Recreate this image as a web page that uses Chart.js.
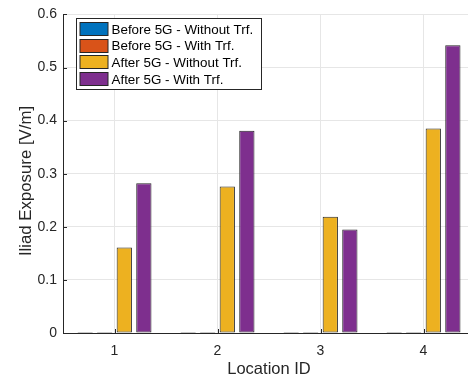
<!DOCTYPE html>
<html>
<head>
<meta charset="utf-8">
<script src="https://cdn.jsdelivr.net/npm/chart.js@4"></script>
<style>
  html, body { margin: 0; padding: 0; background: #fff; overflow: hidden; }
  #wrap { position: relative; width: 476px; height: 384px; }
</style>
</head>
<body>
<div id="wrap">
  <canvas id="myBarChart" width="476" height="384"></canvas>
</div>
<script>
const locations = ['1', '2', '3', '4'];
const seriesNames = ['Before 5G - Without Trf.', 'Before 5G - With Trf.', 'After 5G - Without Trf.', 'After 5G - With Trf.'];
const colors = ['#0072BD', '#D95319', '#EDB120', '#7E2F8E'];
const beforeWithout = [0, 0, 0, 0];
const beforeWith = [0, 0, 0, 0];
const afterWithout = [0.161, 0.276, 0.219, 0.385];
const afterWith = [0.282, 0.381, 0.195, 0.542];
const yTicks = [0, 0.1, 0.2, 0.3, 0.4, 0.5, 0.6];
const yTitle = 'Iliad Exposure [V/m]';

const values = [beforeWithout, beforeWith, afterWithout, afterWith];
const font = "'Liberation Sans', Arial, sans-serif";

// 안쪽 눈금 + y축 제목 + 범례
const extras = {
  id: 'extras',
  afterDraw(chart) {
    const ctx = chart.ctx;
    const a = chart.chartArea;
    ctx.save();
    ctx.strokeStyle = '#262626';
    ctx.lineWidth = 1;
    ctx.beginPath();
    chart.scales.y.ticks.forEach((t, i) => {
      const y = Math.round(chart.scales.y.getPixelForTick(i)) + 0.5;
      ctx.moveTo(a.left, y);
      ctx.lineTo(a.left + 4, y);
    });
    chart.scales.x.ticks.forEach((t, i) => {
      const x = Math.round(chart.scales.x.getPixelForTick(i)) + 0.5;
      ctx.moveTo(x, a.bottom);
      ctx.lineTo(x, a.bottom - 4);
    });
    ctx.stroke();

    // 범례
    const lx = 76.5, ly = 18.5, lw = 185, lh = 71;
    ctx.fillStyle = '#fff';
    ctx.fillRect(lx, ly, lw, lh);
    ctx.strokeRect(lx, ly, lw, lh);
    ctx.font = '13.4px ' + font;
    ctx.textBaseline = 'middle';
    ctx.textAlign = 'left';
    seriesNames.forEach((name, i) => {
      const cy = ly + 10.5 + i * 16.7;
      ctx.fillStyle = colors[i];
      ctx.fillRect(lx + 3.5, Math.round(cy - 7) + 0.5, 28, 13);
      ctx.strokeRect(lx + 3.5, Math.round(cy - 7) + 0.5, 28, 13);
      ctx.fillStyle = '#000';
      ctx.fillText(name, lx + 35, cy + 1);
    });

    // y축 제목
    ctx.translate(26, 181);
    ctx.rotate(-Math.PI / 2);
    ctx.fillStyle = '#262626';
    ctx.font = '16.8px ' + font;
    ctx.textAlign = 'center';
    ctx.textBaseline = 'middle';
    ctx.fillText(yTitle, 0, 0);
    ctx.restore();
  }
};

const data = {
  labels: locations,
  datasets: values.map((v, i) => ({
    label: seriesNames[i],
    data: v,
    backgroundColor: colors[i],
    borderColor: '#262626',
    borderWidth: 1,
    borderSkipped: false,
    minBarLength: 1,
    categoryPercentage: 0.76,
    barPercentage: 0.78
  }))
};

const options = {
  responsive: false,
  animation: false,
  layout: { padding: { top: 10, right: 1, left: 0, bottom: 0 } },
  plugins: { legend: { display: false }, tooltip: { enabled: false } },
  scales: {
    x: {
      grid: { offset: false, color: '#e6e6e6', tickLength: 0, drawTicks: false },
      border: { color: '#262626', width: 1 },
      ticks: { color: '#262626', font: { family: font, size: 14 }, padding: 10 },
      title: { display: true, text: 'Location ID', color: '#262626', font: { family: font, size: 16.5 }, padding: { top: 2, bottom: 5 } },
      afterFit(scale) { scale.height = 51; }
    },
    y: {
      min: 0,
      max: 0.6,
      afterBuildTicks(scale) { scale.ticks = yTicks.map(v => ({ value: v })); },
      grid: { color: '#e6e6e6', tickLength: 0, drawTicks: false },
      border: { color: '#262626', width: 1 },
      ticks: { color: '#262626', font: { family: font, size: 14 }, padding: 6, callback: v => String(v) },
      afterFit(scale) { scale.width = 63; }
    }
  }
};

const ctx = document.getElementById('myBarChart').getContext('2d');
const myChart = new Chart(ctx, { type: 'bar', data: data, options: options, plugins: [extras] });
</script>
</body>
</html>
